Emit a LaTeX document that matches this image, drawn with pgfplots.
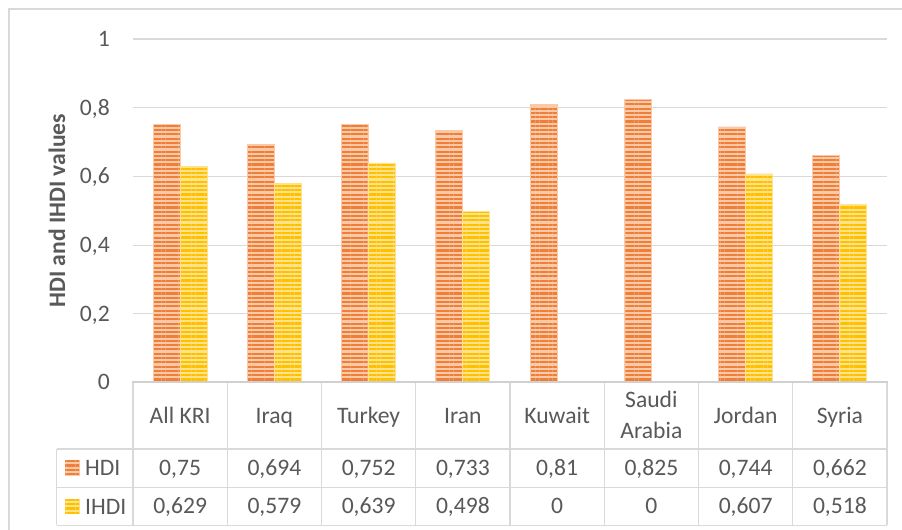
\documentclass[border=0pt]{standalone}
\usepackage{pgfplots}
\pgfplotsset{compat=1.18}
\usepackage{pgfplotstable}
\usetikzlibrary{patterns.meta}
\usepackage{fontspec}
\setmainfont{Carlito}

\definecolor{textgray}{HTML}{595959}
\definecolor{gridgray}{HTML}{D9D9D9}
\definecolor{framegray}{HTML}{D0D0D0}
\definecolor{hdidark}{HTML}{EE7E38}
\definecolor{hdilight}{HTML}{F9C9A8}
\definecolor{ihdidark}{HTML}{FFC000}
\definecolor{ihdilight}{HTML}{FFE38C}

\newcommand\chartfont{\fontsize{23.6bp}{31bp}\selectfont}

% HDI and inequality-adjusted HDI per country
\pgfplotstableread{
idx country hdi   ihdi
0   AllKRI  0.75  0.629
1   Iraq    0.694 0.579
2   Turkey  0.752 0.639
3   Iran    0.733 0.498
4   Kuwait  0.81  0
5   Saudi   0.825 0
6   Jordan  0.744 0.607
7   Syria   0.662 0.518
}\hdidata

\tikzset{
  hdibar/.style={fill=hdilight, draw=hdilight, line width=0.8bp,
    postaction={pattern={Lines[angle=0,distance=4.3bp,line width=2.1bp]}, pattern color=hdidark}},
  ihdibar/.style={fill=ihdilight, draw=ihdilight, line width=0.8bp,
    postaction={pattern={Lines[angle=0,distance=4.3bp,line width=2.2bp]}, pattern color=ihdidark}},
  valcell/.style={anchor=base, inner sep=0pt, font=\chartfont, text=textgray},
}

\begin{document}
\begin{tikzpicture}[x=1bp,y=1bp]
\useasboundingbox (0,0) rectangle (902,530);
\fill[white] (0,0) rectangle (902,530);
% chart frame
\draw[gridgray, line width=1.3bp] (9,-20) -- (9,521) -- (920,521);

\begin{axis}[
  at={(133bp,147.5bp)}, anchor=south west,
  scale only axis, width=754bp, height=343.5bp,
  xmin=-0.5, xmax=7.5, ymin=0, ymax=1,
  clip=false,
  ybar, bar width=0.2865,
  axis line style={draw=none},
  tick style={draw=none}, major tick length=0pt,
  ymajorgrids, major grid style={draw=gridgray, line width=1.1bp},
  ytick={0,0.2,0.4,0.6,0.8,1},
  xtick={0,...,7},
  xticklabels={All KRI, Iraq, Turkey, Iran, Kuwait,
    {\raisebox{-15bp}{\begin{tabular}[b]{@{}c@{}}Saudi\\Arabia\end{tabular}}},
    Jordan, Syria},
  xticklabel style={anchor=base, inner sep=0pt, yshift=-40.8bp, font=\chartfont, text=textgray},
  yticklabel style={anchor=base east, inner sep=0pt, xshift=-23bp, yshift=-7.5bp, font=\chartfont, text=textgray},
  ylabel={\bfseries HDI and IHDI values},
  every axis y label/.style={at={([xshift=-76bp]rel axis cs:0,0.5)}, rotate=90, anchor=center, font=\chartfont, text=textgray},
  /pgf/number format/fixed,
  /pgf/number format/precision=3,
  /pgf/number format/use comma,
  /pgf/number format/assume math mode=true,
]
\addplot[hdibar, bar shift=-0.14325] table[x=idx, y=hdi]{\hdidata};
\addplot[ihdibar, bar shift=0.14325] table[x=idx, y=ihdi]{\hdidata};

% value rows of the data table
\pgfplotsinvokeforeach{0,...,7}{%
  \pgfplotstablegetelem{#1}{hdi}\of\hdidata
  \edef\cellcmd{\noexpand\node[valcell] at (axis cs:#1,-0.2722) {\noexpand\pgfmathprintnumber{\pgfplotsretval}};}%
  \cellcmd
  \pgfplotstablegetelem{#1}{ihdi}\of\hdidata
  \edef\cellcmd{\noexpand\node[valcell] at (axis cs:#1,-0.3816) {\noexpand\pgfmathprintnumber{\pgfplotsretval}};}%
  \cellcmd
}
\end{axis}

% data table grid
\draw[gridgray, line width=1.3bp] (56.7,81) -- (887,81);
\draw[gridgray, line width=1.3bp] (56.7,42.3) -- (887,42.3);
\draw[gridgray, line width=1.3bp] (56.7,4.5) -- (887,4.5);
\draw[gridgray, line width=1.3bp] (56.7,81) -- (56.7,4.5);
\foreach \k in {0,...,8} {
  \draw[gridgray, line width=1.3bp] ({133+\k*94.25},147.5) -- ({133+\k*94.25},4.5);
}
\draw[framegray, line width=2bp] (132,147.5) -- (888,147.5);

% legend keys inside the table
\path[hdibar] (65,54.7) rectangle (79,69.3);
\path[ihdibar] (65,16.1) rectangle (79,30.7);
\node[anchor=base west, inner sep=0pt, font=\chartfont, text=textgray] at (85,54) {HDI};
\node[anchor=base west, inner sep=0pt, font=\chartfont, text=textgray] at (85,15.9) {IHDI};
\end{tikzpicture}
\end{document}
